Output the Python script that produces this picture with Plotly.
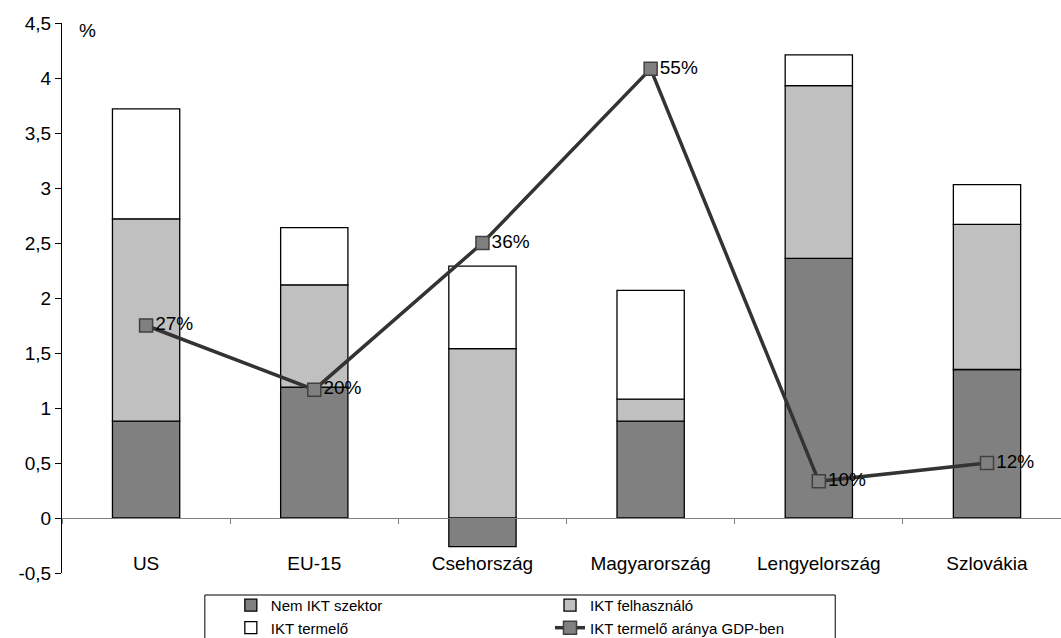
import plotly.graph_objects as go

# Country groups on the category axis
countries = ["US", "EU-15", "Csehország", "Magyarország", "Lengyelország", "Szlovákia"]

# Stacked components (percentage points)
nem_ikt = [0.88, 1.19, -0.26, 0.88, 2.36, 1.35]
ikt_felhasznalo = [1.84, 0.93, 1.54, 0.20, 1.57, 1.32]
ikt_termelo = [1.00, 0.52, 0.75, 0.99, 0.28, 0.36]

# Share of ICT producers in GDP (secondary, hidden axis)
gdp_arany = [0.27, 0.20, 0.36, 0.55, 0.10, 0.12]

# Left axis ticks with decimal-comma labels
y_ticks = [-0.5, 0, 0.5, 1, 1.5, 2, 2.5, 3, 3.5, 4, 4.5]
y_tick_labels = ["-0,5", "0", "0,5", "1", "1,5", "2", "2,5", "3", "3,5", "4", "4,5"]

FONT = "Liberation Sans, Arial, sans-serif"
BAR_LINE = dict(color="black", width=1.3)

fig = go.Figure()

fig.add_trace(go.Bar(
    x=countries, y=nem_ikt, name="Nem IKT szektor",
    marker=dict(color="#808080", line=BAR_LINE), width=0.4,
    legend="legend",
))
fig.add_trace(go.Bar(
    x=countries, y=ikt_felhasznalo, name="IKT felhasználó",
    marker=dict(color="#C0C0C0", line=BAR_LINE), width=0.4,
    legend="legend2",
))
fig.add_trace(go.Bar(
    x=countries, y=ikt_termelo, name="IKT termelő",
    marker=dict(color="#FFFFFF", line=BAR_LINE), width=0.4,
    legend="legend",
))
fig.add_trace(go.Scatter(
    x=countries, y=gdp_arany, name="IKT termelő aránya GDP-ben",
    yaxis="y2", mode="lines+markers+text",
    line=dict(color="#333333", width=3.5),
    marker=dict(symbol="square", size=13, color="#808080",
                line=dict(color="#404040", width=1.5)),
    texttemplate="%{y:.0%}", textposition="middle right",
    textfont=dict(family=FONT, size=19, color="black"),
    cliponaxis=False,
    legend="legend2",
))

fig.update_layout(
    width=1061, height=638,
    margin=dict(l=62, r=0, t=23, b=65, autoexpand=False),
    paper_bgcolor="white", plot_bgcolor="white",
    barmode="relative",
    font=dict(family=FONT, size=19, color="black"),
    separators=", ",
    xaxis=dict(
        type="category", range=[-0.5, 5.44],
        anchor="free", position=0.1,
        showline=True, linecolor="#808080", linewidth=1,
        ticks="outside", tickson="boundaries", ticklen=5, tickcolor="#808080",
        showgrid=False, zeroline=False,
        tickfont=dict(family=FONT, size=19, color="black"),
        ticklabelstandoff=28,
    ),
    yaxis=dict(
        range=[-0.5, 4.5],
        tickvals=y_ticks, ticktext=y_tick_labels,
        showline=True, linecolor="black", linewidth=1,
        ticks="outside", ticklen=6, tickcolor="black",
        showgrid=False, zeroline=False,
        tickfont=dict(family=FONT, size=19, color="black"),
    ),
    yaxis2=dict(range=[0, 0.6], overlaying="y", visible=False),
    legend=dict(
        x=0.169, y=-0.029, xanchor="left", yanchor="top",
        bgcolor="rgba(0,0,0,0)", font=dict(family=FONT, size=15),
        tracegroupgap=0,
    ),
    legend2=dict(
        x=0.4885, y=-0.029, xanchor="left", yanchor="top",
        bgcolor="rgba(0,0,0,0)", font=dict(family=FONT, size=15),
        tracegroupgap=0,
    ),
    shapes=[dict(
        type="rect", xref="paper", yref="paper",
        x0=0.143, x1=0.774, y0=-0.04, y1=-0.2,
        line=dict(color="black", width=1), fillcolor="rgba(0,0,0,0)",
        layer="below",
    )],
    annotations=[dict(
        text="%", xref="paper", yref="paper", x=0.026, y=0.987,
        showarrow=False, xanchor="center", yanchor="middle",
        font=dict(family=FONT, size=19),
    )],
)

fig.write_html("out.html")
